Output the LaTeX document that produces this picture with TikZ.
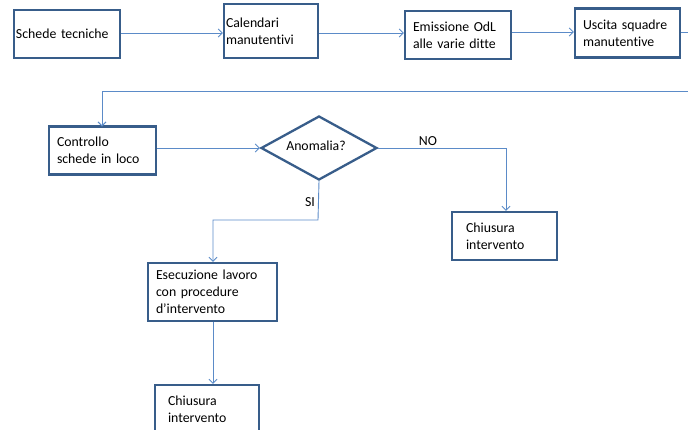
\documentclass[tikz,border=0pt]{standalone}
\usepackage{fontspec}
\setmainfont{Carlito}[Ligatures=CommonOff]
\usetikzlibrary{shapes.geometric,arrows.meta}
\definecolor{boxline}{HTML}{385D8A}
\definecolor{conn}{HTML}{5B8BC8}
\begin{document}
\begin{tikzpicture}[x=1pt,y=-1pt,
  font=\fontsize{13.8}{16.8}\selectfont,
  box/.style={draw=boxline,line width=2.3pt,fill=white,inner ysep=0pt,
    align=left,minimum height=48},
  decision/.style={diamond,draw=boxline,line width=2.3pt,fill=white,inner sep=0pt},
  flow/.style={draw=conn,line width=0.9pt,-{Straight Barb[length=4pt,width=8pt,line width=0.9pt]}},
  link/.style={draw=conn,line width=0.9pt},
  tag/.style={inner sep=0pt}]
\useasboundingbox (0,0) rectangle (688,429);

% upper row
\node[box,minimum width=106,text width=102,inner xsep=2] (b1) at (67,34) {Schede tecniche};
\node[box,minimum width=94,minimum height=54,text width=90,inner xsep=2] (b2) at (271,31) {Calendari\\manutentivi};
\node[box,minimum width=106,text width=90,inner xsep=8] (b3) at (458,35) {Emissione OdL\\alle varie ditte};
\node[box,minimum width=105,minimum height=49,text width=89,inner xsep=8] (b4) at (627.5,33) {Uscita squadre\\manutentive};

% lower part
\node[box,minimum width=107,text width=91,inner xsep=8] (b5) at (102.5,150.5) {Controllo\\schede in loco};
\node[decision,minimum width=116,minimum height=64] (d1) at (319,148) {};
\node[tag] (d1t) at (316,146) {Anomalia?};
\node[box,minimum width=105,text width=77,inner xsep=14] (b6) at (504.5,236) {Chiusura\\intervento};
\node[box,minimum width=129,minimum height=58,text width=113,inner xsep=8] (b7) at (212.5,292) {Esecuzione lavoro\\con procedure\\d’intervento};
\node[box,minimum width=104,text width=78,inner xsep=13] (b8) at (207,409) {Chiusura\\intervento};

% connectors
\coordinate (out) at (688,32);
\coordinate (back) at (688,91);
\coordinate (nocorner) at (506,148);
\coordinate (sicorner) at (318,220);
\coordinate (sileft) at (213,220);

\draw[flow] (b1.east |- 0,33) -- (b2.west |- 0,33);
\draw[flow] (b2.east |- 0,33) -- (b3.west |- 0,33);
\draw[flow] (b3.east |- 0,32) -- (b4.west |- 0,32);
\draw[link] (b4.east |- out) -- (out);
\draw[flow] (back) -- (102,91) -- (102,126.5);
\draw[flow] (b5.east |- d1.west) -- (d1.west);
\draw[flow] (d1.east) -- (nocorner) -- (nocorner |- b6.north);
\draw[flow] (d1.south) -- (sicorner) -- (sileft) -- (sileft |- b7.north);
\draw[flow] (b7.south -| sileft) -- (sileft |- b8.north);

\node[tag] (nolabel) at (428,141) {NO};
\node[tag] (silabel) at (310,202) {SI};
\end{tikzpicture}
\end{document}
